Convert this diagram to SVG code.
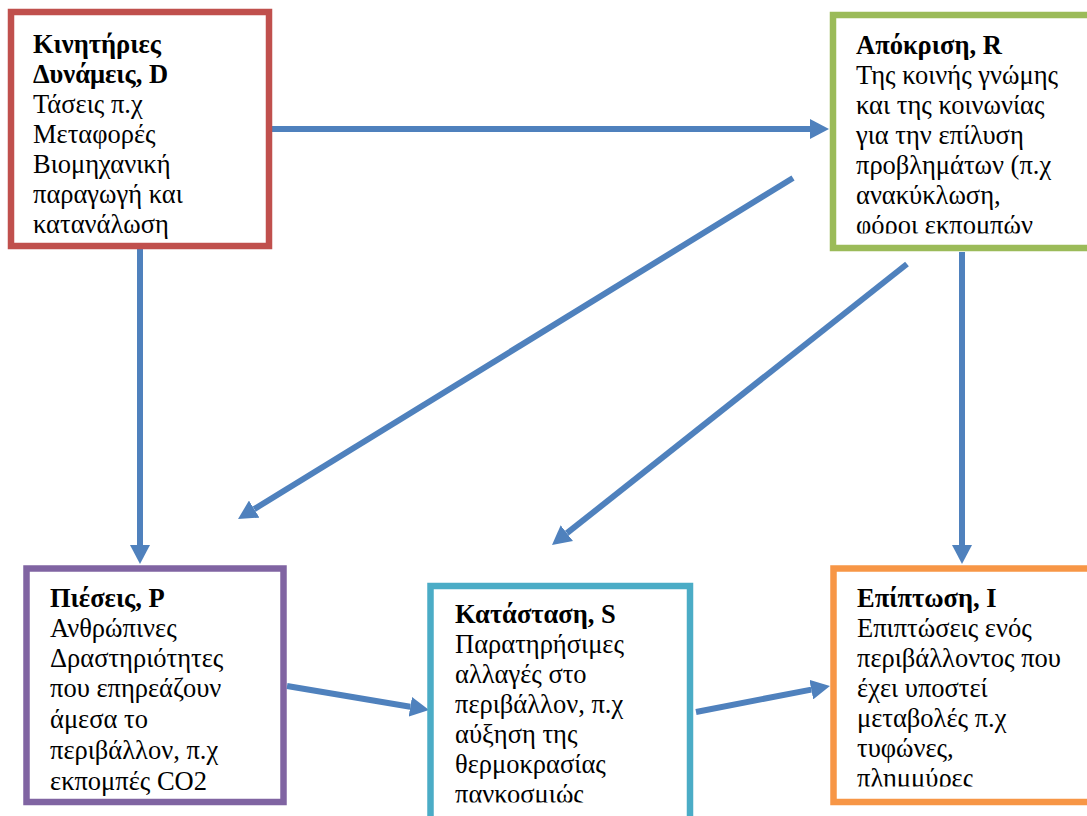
<svg xmlns="http://www.w3.org/2000/svg" width="1087" height="816" viewBox="0 0 1087 816">
<style>
.box{fill:#fff;stroke-width:6.5}
.t{font-family:"Liberation Serif","DejaVu Serif",serif;font-size:26.5px;fill:#000}
.b{font-weight:bold}
.c{stroke:#4F81BD;stroke-width:6;fill:none;marker-end:url(#ah)}
</style>
<defs>
<marker id="ah" markerUnits="userSpaceOnUse" markerWidth="20" markerHeight="20" viewBox="0 0 20 20" refX="0" refY="10" orient="auto">
<path d="M0,0 L19,10 L0,20 z" fill="#4F81BD"/>
</marker>
<clipPath id="cD"><rect x="14" y="15" width="252" height="228"/></clipPath>
<clipPath id="cR"><rect x="836" y="18" width="260" height="215.5"/></clipPath>
<clipPath id="cP"><rect x="30" y="572" width="250" height="226"/></clipPath>
<clipPath id="cS"><rect x="434" y="589" width="253" height="213.5"/></clipPath>
<clipPath id="cI"><rect x="837" y="572" width="260" height="214.5"/></clipPath>
</defs>
<rect width="1087" height="816" fill="#fff"/>
<g id="connectors">
<line class="c" x1="272" y1="129" x2="810" y2="129"/>
<line class="c" x1="140" y1="249" x2="140" y2="545"/>
<line class="c" x1="793" y1="178" x2="254.2" y2="509.1"/>
<line class="c" x1="907" y1="264" x2="566.9" y2="533.2"/>
<line class="c" x1="962" y1="252" x2="962" y2="545"/>
<line class="c" x1="287" y1="686" x2="410.3" y2="706.8"/>
<line class="c" x1="696" y1="712" x2="811.3" y2="689.6"/>
</g>
<g id="node-D">
<rect class="box" x="11" y="12" width="258" height="234" stroke="#C0504D"/>
<g clip-path="url(#cD)">
<text class="t b" x="33" y="53">Κινητήριες</text>
<text class="t b" x="33" y="83">Δυνάμεις, D</text>
<text class="t" x="33" y="113">Τάσεις π.χ</text>
<text class="t" x="33" y="143">Μεταφορές</text>
<text class="t" x="33" y="173">Βιομηχανική</text>
<text class="t" x="33" y="203">παραγωγή και</text>
<text class="t" x="33" y="233">κατανάλωση</text>
</g>
</g>
<g id="node-R">
<rect class="box" x="833" y="15" width="270" height="233" stroke="#9BBB59"/>
<g clip-path="url(#cR)">
<text class="t b" x="856" y="54">Απόκριση, R</text>
<text class="t" x="856" y="84">Της κοινής γνώμης</text>
<text class="t" x="856" y="114">και της κοινωνίας</text>
<text class="t" x="856" y="144">για την επίλυση</text>
<text class="t" x="856" y="174">προβλημάτων (π.χ</text>
<text class="t" x="856" y="204">ανακύκλωση,</text>
<text class="t" x="856" y="234">φόροι εκπομπών</text>
</g>
</g>
<g id="node-P">
<rect class="box" x="26.5" y="568.5" width="257" height="233.5" stroke="#8064A2"/>
<g clip-path="url(#cP)">
<text class="t b" x="50" y="607">Πιέσεις, P</text>
<text class="t" x="50" y="637">Ανθρώπινες</text>
<text class="t" x="50" y="667">Δραστηριότητες</text>
<text class="t" x="50" y="697">που επηρεάζουν</text>
<text class="t" x="50" y="728">άμεσα το</text>
<text class="t" x="50" y="759">περιβάλλον, π.χ</text>
<text class="t" x="50" y="790">εκπομπές CO2</text>
</g>
</g>
<g id="node-S">
<rect class="box" x="430.5" y="586" width="259.5" height="250" stroke="#4BACC6"/>
<g clip-path="url(#cS)">
<text class="t b" x="455" y="623">Κατάσταση, S</text>
<text class="t" x="455" y="653">Παρατηρήσιμες</text>
<text class="t" x="455" y="683">αλλαγές στο</text>
<text class="t" x="455" y="713">περιβάλλον, π.χ</text>
<text class="t" x="455" y="743">αύξηση της</text>
<text class="t" x="455" y="773">θερμοκρασίας</text>
<text class="t" x="455" y="803">πανκοσμιώς</text>
</g>
</g>
<g id="node-I">
<rect class="box" x="833.5" y="568.5" width="270" height="233.5" stroke="#F79646"/>
<g clip-path="url(#cI)">
<text class="t b" x="857" y="607">Επίπτωση, I</text>
<text class="t" x="857" y="637">Επιπτώσεις ενός</text>
<text class="t" x="857" y="667">περιβάλλοντος που</text>
<text class="t" x="857" y="697">έχει υποστεί</text>
<text class="t" x="857" y="727">μεταβολές π.χ</text>
<text class="t" x="857" y="757">τυφώνες,</text>
<text class="t" x="857" y="787">πλημμύρες</text>
</g>
</g>
</svg>
